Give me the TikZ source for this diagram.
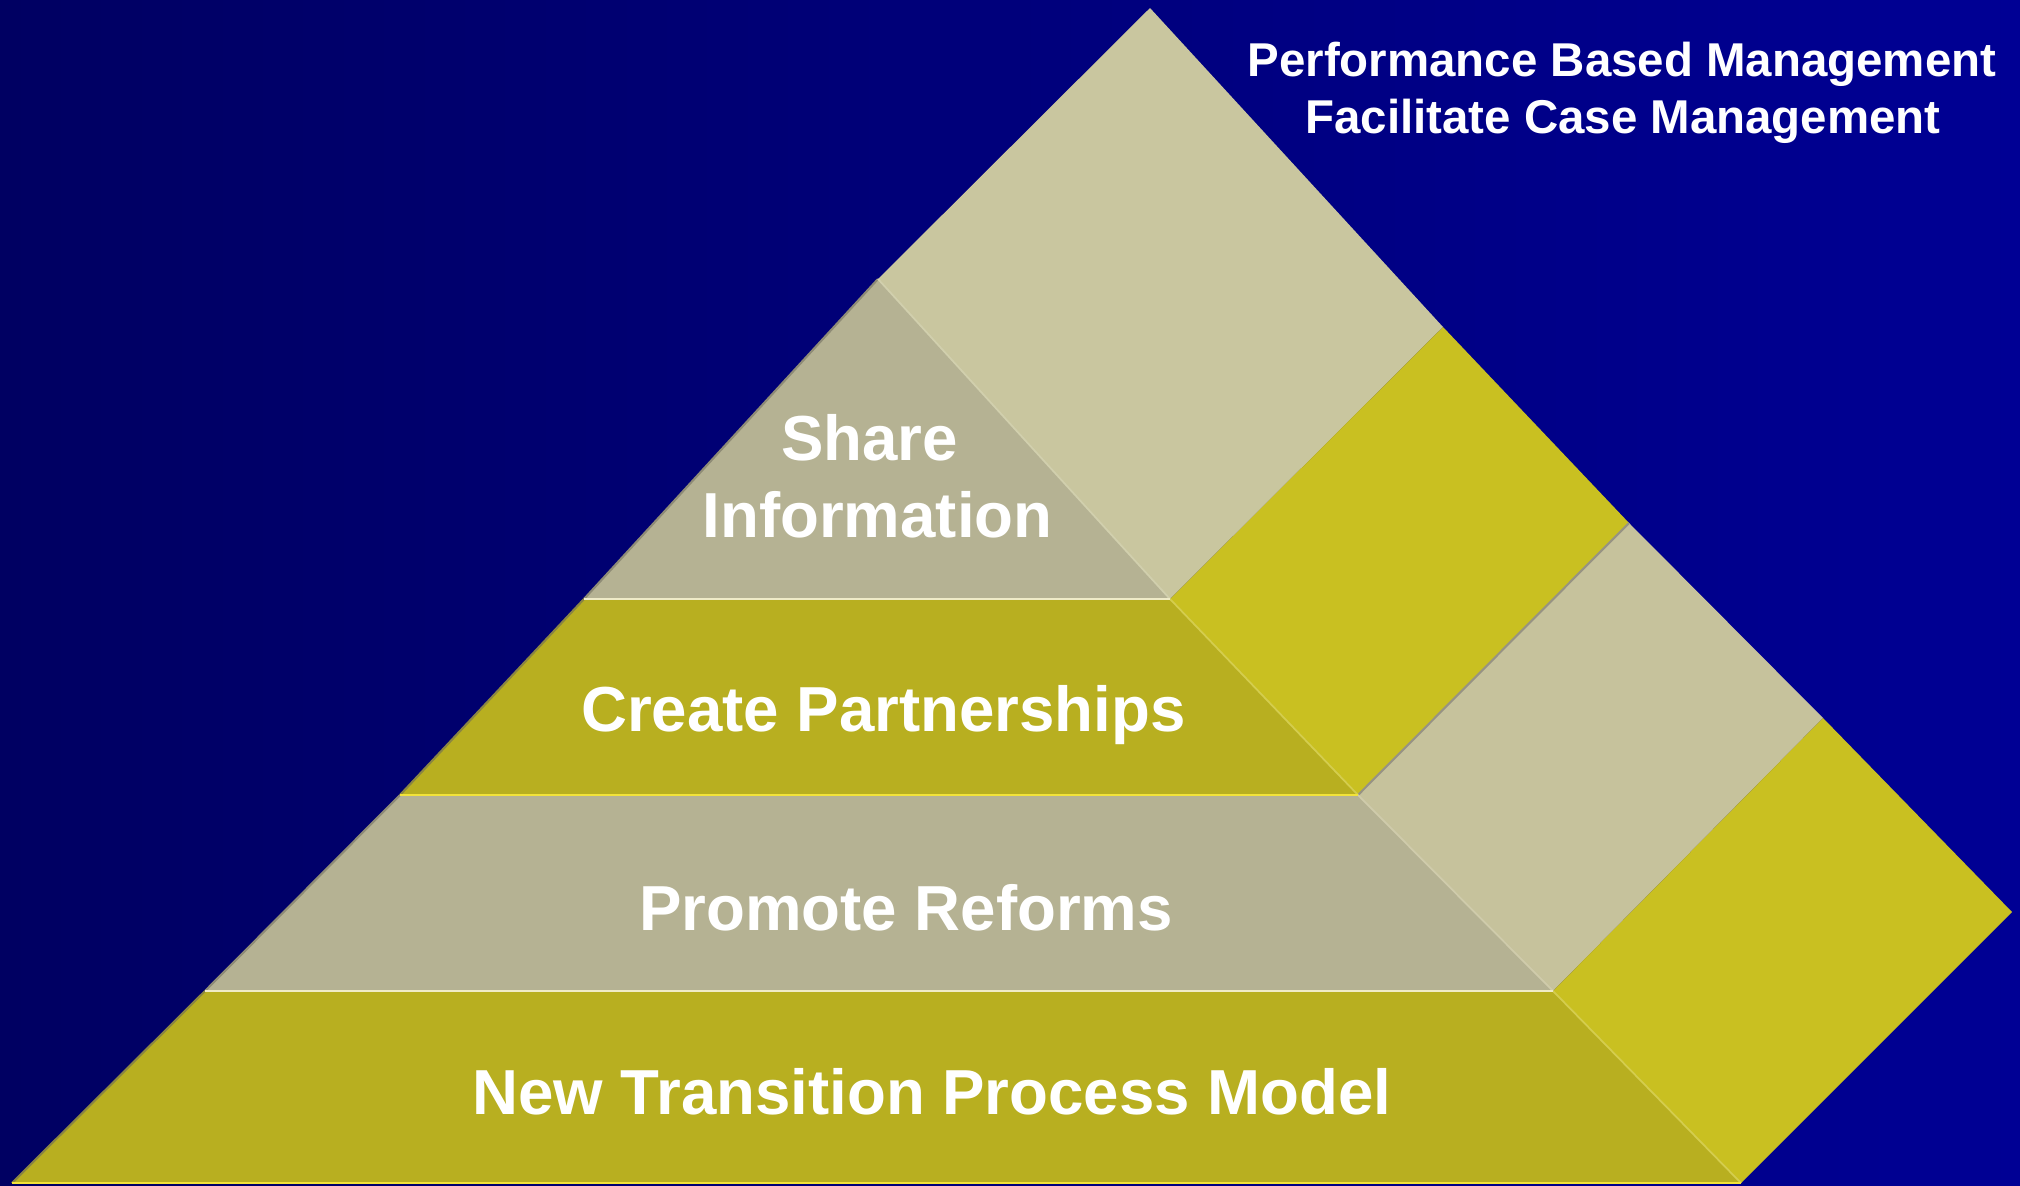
\documentclass[tikz,border=0pt]{standalone}
\usepackage{fontspec}
\setmainfont{Liberation Sans}
\definecolor{bgL}{RGB}{0,0,98}
\definecolor{bgR}{RGB}{0,0,148}
\definecolor{topLight}{HTML}{C9C69F}
\definecolor{lowLight}{HTML}{C6C29C}
\definecolor{tierGray}{HTML}{B5B293}
\definecolor{tierYellow}{HTML}{B8AF20}
\definecolor{faceYellow}{HTML}{C9C021}
\definecolor{lineCream}{HTML}{EFEBC8}
\definecolor{lineYellow}{HTML}{F2E33A}
\definecolor{edgeOlive}{HTML}{8A8542}
\definecolor{edgeGray}{HTML}{8E8B76}
\definecolor{seamGray}{HTML}{979383}
\begin{document}
\begin{tikzpicture}[x=1cm,y=1cm,
  tierlabel/.style={text=white,font=\bfseries\fontsize{18.1}{21}\selectfont,anchor=base,inner sep=0pt},
  toplabel/.style={text=white,font=\bfseries\fontsize{13.5}{16}\selectfont,anchor=base,inner sep=0pt}]
\useasboundingbox (0,0) rectangle (20.20,11.85);
\shade[left color=bgL,right color=bgR] (0,0) rectangle (20.20,11.85);
% coordinates
\coordinate (A) at (8.78,9.06);
\coordinate (L1) at (5.84,5.86); \coordinate (R1) at (11.70,5.86);
\coordinate (L2) at (4.00,3.90); \coordinate (R2) at (13.58,3.90);
\coordinate (L3) at (2.05,1.94); \coordinate (R3) at (15.53,1.94);
\coordinate (L4) at (0.12,0.02); \coordinate (R4) at (17.41,0.02);
\coordinate (T1) at (11.50,11.77);
\coordinate (T2) at (14.43,8.58);
\coordinate (T3) at (16.29,6.62);
\coordinate (T4) at (18.23,4.67);
\coordinate (T5) at (20.12,2.73);
% right faces
\fill[topLight] (T1) -- (A) -- (R1) -- (T2) -- cycle;
\fill[faceYellow] (R1) -- (T2) -- (T3) -- (R2) -- cycle;
\fill[lowLight] (R2) -- (T3) -- (T4) -- (R3) -- cycle;
\fill[faceYellow] (R3) -- (T4) -- (T5) -- (R4) -- cycle;
\draw[seamGray,line width=0.6pt] (R2) -- (T3);
% tiers
\fill[tierGray] (A) -- (L1) -- (R1) -- cycle;
\fill[tierYellow] (L1) -- (L2) -- (R2) -- (R1) -- cycle;
\fill[tierGray] (L2) -- (L3) -- (R3) -- (R2) -- cycle;
\fill[tierYellow] (L3) -- (L4) -- (R4) -- (R3) -- cycle;
% tier edges
\draw[edgeGray,line width=0.6pt] (A) -- (L1);
\draw[edgeOlive,line width=0.6pt] (L1) -- (L2);
\draw[edgeGray,line width=0.6pt] (L2) -- (L3);
\draw[edgeOlive,line width=0.6pt] (L3) -- (L4);
\draw[topLight!85!white,line width=0.5pt] (A) -- (R1);
\draw[faceYellow!80!white,line width=0.5pt] (R1) -- (R2);
\draw[lowLight!85!white,line width=0.5pt] (R2) -- (R3);
\draw[faceYellow!80!white,line width=0.5pt] (R3) -- (R4);
\draw[lineCream,line width=0.8pt] (L1) -- (R1);
\draw[lineYellow,line width=0.8pt] (L2) -- (R2);
\draw[lineCream,line width=0.8pt] (L3) -- (R3);
\draw[lineYellow,line width=0.8pt] (L4) -- (R4);
% labels
\node[tierlabel] (share) at (8.695,7.25) {Share};
\node[tierlabel] (info) at (8.775,6.48) {Information};
\node[tierlabel] (create) at (8.835,4.54) {Create Partnerships};
\node[tierlabel] (promote) at (9.06,2.55) {Promote Reforms};
\node[tierlabel] (newmodel) at (9.32,0.71) {New Transition Process Model};
\node[toplabel] (perf) at (16.22,11.09) {Performance Based Management};
\node[toplabel] (facil) at (16.23,10.52) {Facilitate Case Management};
\end{tikzpicture}
\end{document}
